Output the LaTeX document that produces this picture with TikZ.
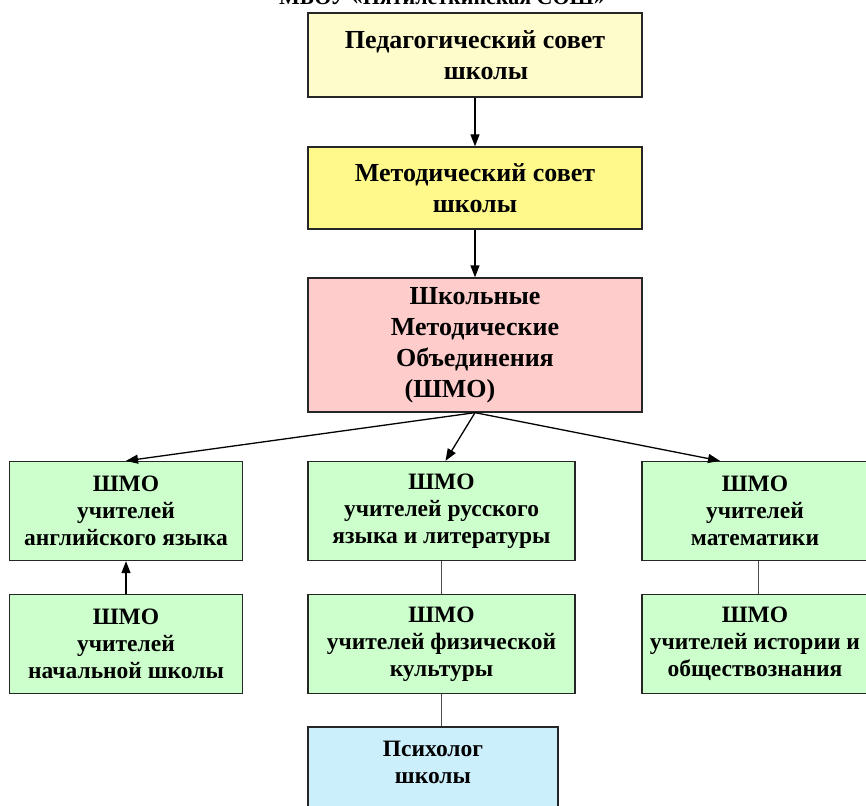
\documentclass[tikz,border=0pt]{standalone}
\usepackage{fontspec}
\setmainfont{Liberation Serif}
\usetikzlibrary{arrows.meta}

\tikzset{
  box/.style={draw=black!85, line width=1.3pt, align=center, inner sep=0pt,
    font=\bfseries\fontsize{26}{31}\selectfont},
  smallbox/.style={box, font=\bfseries\fontsize{23.5}{27}\selectfont},
}

\begin{document}
\begin{tikzpicture}[x=1pt, y=-1pt, >={Triangle[length=12pt,width=9pt]}, line width=1.3pt]
    \useasboundingbox (0,0) rectangle (866,805);

    % title, cut by the page top
    \node[font=\bfseries\fontsize{22}{26}\selectfont, anchor=base] (title) at (442,5) {МБОУ «Пятилеткинская СОШ»};

    % upper column
    \node[box, fill=yellow!20, minimum width=334pt, minimum height=84pt] (ped) at (475,55) {Педагогический совет\\\rule{22pt}{0pt}школы};
    \node[box, fill=yellow!45, minimum width=334pt, minimum height=82pt] (met) at (475,188) {Методический совет\\школы};
    \node[box, fill=red!20, minimum width=334pt, minimum height=134pt] (shmo) at (475,345) {Школьные\\Методические\\Объединения\\(ШМО)\rule{50pt}{0pt}};

    \draw[->](ped)--(met);
    \draw[->](met)--(shmo);

    % second row
    \node[smallbox, fill=green!20, minimum width=233pt, minimum height=99pt] (eng) at (126,511) {ШМО\\учителей\\английского языка};
    \node[smallbox, fill=green!20, minimum width=267pt, minimum height=99pt] (rus) at (441.5,511) {ШМО\\учителей русского\\языка и литературы};
    \node[smallbox, fill=green!20, minimum width=226pt, minimum height=99pt] (math) at (755,511) {ШМО\\учителей\\математики};

    \draw[->](shmo.south)--(eng.north);
    \draw[->](shmo.south)--([xshift=4pt]rus.north);
    \draw[->](shmo.south)--([xshift=-35pt]math.north);

    % third row
    \node[smallbox, fill=green!20, minimum width=233pt, minimum height=99pt] (prim) at (126,644) {ШМО\\учителей\\начальной школы};
    \node[smallbox, fill=green!20, minimum width=267pt, minimum height=99pt] (phys) at (441.5,644) {ШМО\\учителей физической\\культуры};
    \node[smallbox, fill=green!20, minimum width=226pt, minimum height=99pt] (hist) at (755,644) {ШМО\\учителей истории и\\обществознания};

    \draw[->](prim)--(eng);
    \draw[line width=1pt, black!70](rus)--(phys);
    \draw[line width=1pt, black!70]([xshift=3pt]math.south)--([xshift=3pt]hist.north);

    % psychologist, cut by the page bottom
    \node[smallbox, fill=cyan!20, minimum width=250pt, minimum height=100pt, text depth=30pt] (psy) at (433,777) {Психолог\\школы};
    \draw[line width=1pt, black!70](phys.south)--(phys.south |- psy.north);
\end{tikzpicture}
\end{document}
